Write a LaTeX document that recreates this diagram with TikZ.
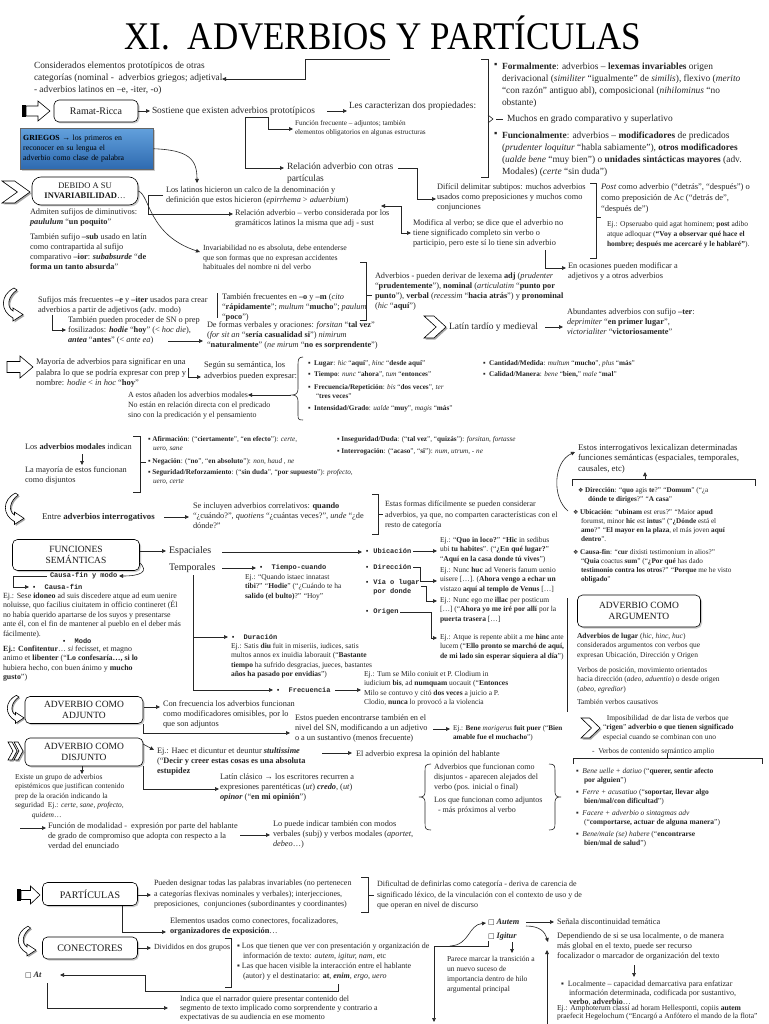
\documentclass[tikz,border=0pt]{standalone}
\usepackage{fontspec}
\setmainfont{Liberation Serif}
\newfontfamily\dv{DejaVu Sans}
\newfontfamily\mono{Liberation Mono}
\usetikzlibrary{arrows.meta,shadows}
\definecolor{txt}{HTML}{262626}
\definecolor{gtop}{HTML}{62A0DC}
\definecolor{gbot}{HTML}{2E6AB0}
\newcommand{\chev}[4]{\fill[black!35] ({#1+1.5},{#2+1.5}) -- ++(0.45*#3,0) -- ++(0.55*#3,0.5*#4) -- ++(-0.55*#3,0.5*#4) -- ++(-0.45*#3,0) -- ++(0.55*#3,-0.5*#4) -- cycle;
 \draw[line width=0.6pt, fill=white] (#1,#2) -- ++(0.45*#3,0) -- ++(0.55*#3,0.5*#4) -- ++(-0.55*#3,0.5*#4) -- ++(-0.45*#3,0) -- ++(0.55*#3,-0.5*#4) -- cycle;}
\newcommand{\barrow}[4]{\draw[line width=0.6pt, fill=white] (#1,{#3-0.25*#4}) -- ({#1+0.5*(#2-#1)},{#3-0.25*#4}) -- ({#1+0.5*(#2-#1)},{#3-0.5*#4}) -- (#2,#3) -- ({#1+0.5*(#2-#1)},{#3+0.5*#4}) -- ({#1+0.5*(#2-#1)},{#3+0.25*#4}) -- (#1,{#3+0.25*#4}) -- cycle;}
\newcommand{\hookarr}[3]{\begin{scope}[shift={(#1,#2)}, scale=#3]
 \fill[black!35] (15.5,1.5) .. controls (6.5,7.5) and (4.5,18.5) .. (11.5,22.5) -- (11.5,19.5) -- (21.5,26) -- (11.5,32.5) -- (11.5,29.5) .. controls (-1.5,22.5) and (-1.5,6.5) .. (12.5,-0.5) -- cycle;
 \draw[line width=0.6pt, fill=white] (14,0) .. controls (5,6) and (3,17) .. (10,21) -- (10,18) -- (20,24.5) -- (10,31) -- (10,28) .. controls (-3,21) and (-3,5) .. (11,-2) -- cycle;
 \end{scope}}
\tikzset{
 T/.style={anchor=north west, inner sep=0pt, outer sep=0pt, align=left, text=txt, font=\fontsize{8.3}{10}\selectfont},
 T9/.style={T, font=\fontsize{9.4}{12}\selectfont},
 Tx/.style={T, font=\fontsize{7.5}{9.5}\selectfont},
 Ts/.style={T, font=\fontsize{7.2}{9.2}\selectfont},
 Tm/.style={T, font=\mono\bfseries\fontsize{7}{9.5}\selectfont},
 box/.style={draw=black, line width=0.6pt, fill=white, rounded corners=5pt, align=center, inner sep=1pt, text=black!90, drop shadow={shadow xshift=1.5pt, shadow yshift=-1.5pt, fill=black!40}, font=\fontsize{9.5}{11}\selectfont},
 ln/.style={line width=0.6pt, draw=black!85},
 arr/.style={ln, -{Triangle[length=4pt,width=3.6pt]}},
 darr/.style={ln, {Triangle[length=4pt,width=3.6pt]}-{Triangle[length=4pt,width=3.6pt]}},
}
\begin{document}
\begin{tikzpicture}[x=1pt,y=-1pt]
\useasboundingbox (0,0) rectangle (768,1024);
\fill[white] (0,0) rectangle (768,1024);
% ---------- title
\node[anchor=base, inner sep=0pt, font=\fontsize{35}{40}\selectfont] (title) at (383,50) {\scalebox{1}[1.12]{XI.\ \ ADVERBIOS Y PARTÍCULAS}};
% ---------- top left
\node[T9] (consid) at (34,62) {Considerados elementos prototípicos de otras\\categorías (nominal -\ \ adverbios griegos; adjetival\\- adverbios latinos en –e, -iter, -o)};
\draw[arr] (390,59) -- (305,59) -- (305,79) -- (222,79);
\fill[black] (22,105) rectangle (26,117);
\barrow{26}{50}{111}{20}
\node[box, minimum width=84pt, minimum height=22pt, font=\fontsize{10}{12}\selectfont] (ramat) at (96,111) {Ramat-Ricca};
\draw[arr] (ramat.east) -- (150,111);
\node[T9, anchor=west] (sost) at (152,111) {Sostiene que existen adverbios prototípicos};
\draw[arr] (327,111) -- (347,111);
\node[T9, anchor=west] (lescar) at (349,106) {Les caracterizan dos propiedades:};
\draw[ln] (481,59) -- (488,59) -- (488,177) -- (481,177);
\draw[ln] (488,115) -- (493,119) -- (488,123);
\draw[ln] (496,119.5) -- (503,119.5);
\node[T9] at (494,63) {▪};
\node[T9] (formal) at (502,63) {\textbf{Formalmente}: adverbios – \textbf{lexemas invariables} origen\\derivacional (\textit{similiter} “igualmente” de \textit{similis}), flexivo (\textit{merito}\\“con razón” antiguo abl), composicional (\textit{nihilominus} “no\\obstante)};
\node[T9, anchor=west] (muchos) at (507,119) {Muchos en grado comparativo y superlativo};
\node[T9] at (494,132) {▪};
\node[T9] (funcion) at (502,132) {\textbf{Funcionalmente}: adverbios – \textbf{modificadores} de predicados\\(\textit{prudenter loquitur} “habla sabiamente”), \textbf{otros modificadores}\\(\textit{ualde bene} “muy bien”) o \textbf{unidades sintácticas mayores} (adv.\\Modales) (\textit{certe} “sin duda”)};
\node[Ts] (funcfrec) at (295,120) {Función frecuente – adjuntos; también\\elementos obligatorios en algunas estructuras};
\draw[ln] (245,117) -- (268,117);
\draw[arr] (268,117) -- (268,129) -- (293,129);
\draw[arr] (245,117) -- (245,168) -- (284,168);
\node[T, font=\fontsize{9.5}{12}\selectfont] (reladv) at (287,163) {Relación adverbio con otras\\partículas};
\draw[arr] (398,168) -- (417,168) -- (417,199) -- (436,199);
% ---------- griegos
\node[draw=black!60, line width=0.5pt, top color=gtop, bottom color=gbot, anchor=north west, inner sep=3pt, minimum width=133pt, minimum height=41pt, text width=127pt, align=left, font=\fontsize{7.8}{10}\selectfont, drop shadow={shadow xshift=1.5pt, shadow yshift=-1.5pt, fill=black!40}] (griegos) at (20,128) {\textbf{GRIEGOS} → los primeros en\\reconocer en su lengua el\\adverbio como clase de palabra};
\draw[arr] (griegos.east) .. controls (190,150) and (197,160) .. (197,183);
% ---------- debido
\chev{2}{181}{28}{22}
\node[box, rounded corners=9pt, minimum width=106pt, minimum height=28pt, font=\fontsize{8.5}{10}\selectfont] (debido) at (85,191) {DEBIDO A SU\\\textbf{INVARIABILIDAD}…};
\node[T] (latinos) at (166,187) {Los latinos hicieron un calco de la denominación y\\definición que estos hicieron (\textit{epirrhema} > \textit{aduerbium})};
\draw[arr] (163,195) -- (148,195) -- (148,214) -- (233,214);
\node[T] (reladvverb) at (235,210) {Relación adverbio – verbo considerada por los\\gramáticos latinos la misma que adj - sust};
\draw[darr] (381,206) -- (401,206) -- (401,233) -- (411,233);
\node[T] (dificil) at (437,184) {Difícil delimitar subtipos: muchos adverbios\\usados como preposiciones y muchos como\\conjunciones};
\node[T] (modif) at (413,220) {Modifica al verbo; se dice que el adverbio no\\tiene significado completo sin verbo o\\participio, pero este sí lo tiene sin adverbio};
\draw[arr] (545,250) -- (545,268) -- (566,268);
\node[T] (ocasion) at (568,263) {En ocasiones pueden modificar a\\adjetivos y a otros adverbios};
\draw[ln] (590,183) -- (596,183) -- (596,258) -- (590,258);
\draw[ln] (596,217) -- (601,217);
\node[T, font=\fontsize{8.5}{11}\selectfont] (post) at (601,184) {\textit{Post} como adverbio (“detrás”, “después”) o\\como preposición de Ac (“detrás de”,\\“después de”)};
\node[T, font=\fontsize{7.5}{10}\selectfont] (opser) at (607,221) {Ej.: Opseruabo quid agat hominem; \textbf{post} adibo\\atque adloquar (\textbf{“Voy a observar qué hace el}\\\textbf{hombre; después me acercaré y le hablaré”}).};
\node[T] (admiten) at (30,209) {Admiten sufijos de diminutivos:\\\textbf{\textit{paululum}} “\textbf{un poquito}”};
\node[T] (sub) at (30,234) {También sufijo \textbf{–sub} usado en latín\\como contrapartida al sufijo\\comparativo \textbf{–ior}: \textbf{\textit{subabsurde}} “\textbf{de}\\\textbf{forma un tanto absurda}”};
\draw[arr] (debido.east) .. controls (150,195) and (148,235) .. (200,252);
\node[T, font=\fontsize{7.8}{9.6}\selectfont] (invar) at (203,245) {Invariabilidad no es absoluta, debe entenderse\\que son formas que no expresan accidentes\\habituales del nombre ni del verbo};
% ---------- sufijos
\hookarr{3}{290}{1}
\node[T] (sufijos) at (38,297) {Sufijos más frecuentes \textbf{–e} y \textbf{–iter} usados para crear\\adverbios a partir de adjetivos (adv. modo)};
\draw[ln] (217,293) -- (217,318);
\node[T] (tambfrec) at (222,294) {También frecuentes en \textbf{–o} y \textbf{–m} (\textit{cito}\\“\textbf{rápidamente}”; \textit{multum} “\textbf{mucho}”; \textit{paulum}\\“\textbf{poco}”)};
\draw[ln] (360,262) -- (366,262) -- (366,320) -- (360,320);
\draw[ln] (366,295) -- (372,295);
\node[T] (derivar) at (375,273) {Adverbios - pueden derivar de lexema \textbf{adj} (\textit{prudenter}\\“\textbf{prudentemente}”), \textbf{nominal} (\textit{articulatim} “\textbf{punto por}\\\textbf{punto}”), \textbf{verbal} (\textit{recessim} “\textbf{hacia atrás}”) y \textbf{pronominal}\\(\textit{hic} “\textbf{aquí}”)};
\draw[arr] (52,315) -- (52,330) -- (66,330);
\node[T] (sn) at (68,317) {También pueden proceder de SN o prep\\fosilizados: \textbf{\textit{hodie}} “\textbf{hoy}” (< \textit{hoc die}),\\\textbf{\textit{antea}} “\textbf{antes}” (< \textit{ante ea})};
\draw[arr] (168,341) -- (203,341);
\node[T] (formasv) at (207,322) {De formas verbales y oraciones: \textit{forsitan} “\textbf{tal vez}”\\(\textit{for sit an} “\textbf{sería casualidad si}”) \textit{nimirum}\\“\textbf{naturalmente}” (\textit{ne mirum} “\textbf{no es sorprendente}”)};
\chev{424}{316}{22}{22}
\node[T, font=\fontsize{9.5}{12}\selectfont, anchor=west] (tardio) at (449,327) {Latín tardío y medieval};
\draw[arr] (545,327) -- (563,327);
\node[T] (abund) at (567,309) {Abundantes adverbios con sufijo \textbf{–ter}:\\\textit{deprimiter} “\textbf{en primer lugar}”,\\\textit{victorialiter} “\textbf{victoriosamente}”};
% ---------- mayoria
\barrow{7}{33}{367}{22}
\node[T, font=\fontsize{8.5}{10.5}\selectfont] (mayoria) at (36,359) {Mayoría de adverbios para significar en una\\palabra lo que se podría expresar con prep y\\nombre: \textit{hodie} < \textit{in hoc} “\textbf{hoy}”};
\draw[arr] (188,368) -- (188,377) -- (201,377);
\node[T, font=\fontsize{8.5}{10.5}\selectfont] (segun) at (204,362) {Según su semántica, los\\adverbios pueden expresar:};
\draw[ln] (303,357) .. controls (298,357) and (298,360) .. (298,366) -- (298,389) .. controls (298,393) and (296,395) .. (292,395) .. controls (296,395) and (298,397) .. (298,401) -- (298,414) .. controls (298,419) and (298,420) .. (303,420);
\draw[arr] (291,395) -- (248,395);
\node[T, font=\fontsize{7.9}{10.5}\selectfont, anchor=west] (aestos) at (128,395) {A estos añaden los adverbios modales};
\node[T, font=\fontsize{7.9}{10.5}\selectfont] (noestan) at (128,402) {No están en relación directa con el predicado\\sino con la predicación y el pensamiento};
\node[Ts] (lugar) at (308,360) {▪\ \ \textbf{Lugar}: \textit{hic} “\textbf{aquí}”, \textit{hinc} “\textbf{desde aquí}”};
\node[Ts] (tiempo) at (308,372) {▪\ \ \textbf{Tiempo}: \textit{nunc} “\textbf{ahora}”, \textit{tum} “\textbf{entonces}”};
\node[Ts] (frecrep) at (308,384) {▪\ \ \textbf{Frecuencia/Repetición}: \textit{bis} “\textbf{dos veces}”, \textit{ter}\\\hspace*{8pt}“\textbf{tres veces}”};
\node[Ts] (intens) at (308,405) {▪\ \ \textbf{Intensidad/Grado}: \textit{ualde} “\textbf{muy}”, \textit{magis} “\textbf{más}”};
\node[Ts] (cantid) at (483,360) {▪\ \ \textbf{Cantidad/Medida}: \textit{multum} “\textbf{mucho}”, \textit{plus} “\textbf{más}”};
\node[Ts] (calid) at (483,372) {▪\ \ \textbf{Calidad/Manera}: \textit{bene} “\textbf{bien,}” \textit{male} “\textbf{mal}”};
% ---------- modales
\node[T] (modales) at (25,444) {Los \textbf{adverbios modales} indican};
\draw[arr] (82,454) -- (82,465);
\node[T] (mayest) at (25,467) {La mayoría de estos funcionan\\como disjuntos};
\draw[ln] (133,436) -- (140,436) -- (140,492) -- (133,492);
\draw[ln] (140,462) -- (146,462);
\node[Ts] (afirm) at (148,436) {▪ \textbf{Afirmación}: (“\textbf{ciertamente}”, “\textbf{en efecto}”): \textit{certe},\\\hspace*{5pt}\textit{uero, sane}};
\node[Ts] (neg) at (148,458) {▪ \textbf{Negación}: (“\textbf{no}”, “\textbf{en absoluto}”): \textit{non, haud , ne}};
\node[Ts] (segur) at (148,469) {▪ \textbf{Seguridad/Reforzamiento}: (“\textbf{sin duda}”, “\textbf{por supuesto}”): \textit{profecto,}\\\hspace*{5pt}\textit{uero, certe}};
\node[Ts] (inseg) at (337,436) {▪ \textbf{Inseguridad/Duda}: (“\textbf{tal vez}”, “\textbf{quizás}”): \textit{forsitan, fortasse}};
\node[Ts] (interr) at (337,448) {▪ \textbf{Interrogación}: (“\textbf{acaso}”, “\textbf{si}”): \textit{num, utrum, - ne}};
% ---------- interrogativos (right)
\node[T, font=\fontsize{8.8}{10.5}\selectfont] (estosint) at (578,444) {Estos interrogativos lexicalizan determinadas\\funciones semánticas (espaciales, temporales,\\causales, etc)};
\draw[ln] (572,486) -- (572,479) -- (755,479) -- (755,486);
\draw[arr] (645,479) -- (645,472);
\node[Ts] (dirq) at (578,487) {{\dv\fontsize{6}{6}\selectfont ❖} \textbf{Dirección}: “\textbf{quo} agis \textbf{te}?” “\textbf{Domum}” (“¿a\\\hspace*{10pt}\textbf{dónde te diriges}?” “\textbf{A casa}”};
\node[Ts] (ubiq) at (573,509) {{\dv\fontsize{6}{6}\selectfont ❖} \textbf{Ubicación}: “\textbf{ubinam} est erus?” “Maior \textbf{apud}\\\hspace*{8pt}forumst, minor \textbf{hic} est \textbf{intus}” (“\textbf{¿Dónde} está el\\\hspace*{8pt}\textbf{amo}?” “\textbf{El mayor en la plaza}, el más joven \textbf{aquí}\\\hspace*{8pt}\textbf{dentro}”.};
\node[Ts] (causaq) at (573,549) {{\dv\fontsize{6}{6}\selectfont ❖} \textbf{Causa-fin}: “\textbf{cur} dixisti testimonium in alios?”\\\hspace*{8pt}“\textbf{Quia} coactus \textbf{sum}” (“\textbf{¿Por qué} has dado\\\hspace*{8pt}\textbf{testimonio contra los otros}?” “\textbf{Porque} me he visto\\\hspace*{8pt}\textbf{obligado}”};
\draw[arr] (568,511) .. controls (552,498) and (553,462) .. (575,452);
\node[T, font=\fontsize{8}{10.5}\selectfont] (estasf) at (385,501) {Estas formas difícilmente se pueden considerar\\adverbios, ya que, no comparten características con el\\resto de categoría};
\hookarr{5}{495}{0.95}
\node[T, font=\fontsize{8.8}{11}\selectfont, anchor=west] (entre) at (42,517) {Entre \textbf{adverbios interrogativos}};
\draw[arr] (164,517) -- (189,517);
\node[T] (seincl) at (193,503) {Se incluyen adverbios correlativos: \textbf{quando}\\“¿cuándo?”, \textit{quotiens} “¿cuántas veces?”, \textit{unde} “¿de\\dónde?”};
\draw[ln] (372,494) -- (378,494) -- (378,534) -- (372,534);
\draw[ln] (378,514) -- (383,514);
% ---------- funciones semanticas
\node[box, minimum width=127pt, minimum height=31pt] (funsem) at (76,555) {FUNCIONES\\SEMÁNTICAS};
\draw[arr] (140,551) -- (166,551);
\node[T, font=\fontsize{10}{12}\selectfont, anchor=west] (espac) at (169,551) {Espaciales};
\node[T, font=\fontsize{10}{12}\selectfont, anchor=west] (tempor) at (169,568) {Temporales};
\draw[arr] (222,552) -- (362,552);
\draw[arr] (222,568) -- (256,568);
\draw[arr] (139,562) .. controls (150,572) and (140,576) .. (119,576);
\node[Tm, anchor=west] (cfm) at (50,576) {Causa-fin y modo};
\draw[arr] (47,576) -- (13,576) -- (13,587) -- (29,587);
\node[Tm, anchor=west] (cf) at (32,587) {▪\ \ Causa-fin};
\node[T, font=\fontsize{7.9}{9.4}\selectfont] (sese) at (3,593) {Ej.: Sese \textbf{idoneo} ad suis discedere atque ad eum uenire\\noluisse, quo facilius ciuitatem in officio contineret (Él\\no había querido apartarse de los suyos y presentarse\\ante él, con el fin de mantener al pueblo en el deber más\\fácilmente).};
\node[Tm, anchor=west] (modo) at (62,641) {▪\ \ Modo};
\node[T, font=\fontsize{7.9}{9.4}\selectfont] (confit) at (3,646) {\textbf{Ej.: Confitentur}… \textit{si} fecisset, et magno\\animo et \textbf{libenter} (“\textbf{Lo confesaría…, si lo}\\hubiera hecho, con buen ánimo y \textbf{mucho}\\\textbf{gusto}”)};
\node[Tm, anchor=west] (tcuando) at (259,568) {▪\ \ Tiempo-cuando};
\node[Tx] (quando) at (245,574) {Ej.: “Quando istaec innatast\\\textbf{tibi}?” “\textbf{Hodie}” (“¿Cuándo te ha\\\textbf{salido (el bulto)}?” “Hoy”};
\draw[ln] (193,575) -- (193,690);
\draw[arr] (193,637) -- (228,637);
\node[Tm, anchor=west] (durac) at (231,637) {▪\ \ Duración};
\node[Tx] (satis) at (231,643) {Ej.: Satis \textbf{diu} fuit in miseriis, iudices, satis\\multos annos ex inuidia laborauit (“\textbf{Bastante}\\\textbf{tiempo} ha sufrido desgracias, jueces, bastantes\\\textbf{años ha pasado por envidias}”)};
\draw[arr] (193,690) -- (273,690);
\node[Tm, anchor=west] (frec) at (276,690) {▪\ \ Frecuencia};
\draw[arr] (335,690) -- (361,690);
\node[Tx] (milo) at (364,671) {Ej.: Tum se Milo coniuit et P. Clodium in\\iudicium \textbf{bis}, ad \textbf{numquam} uocauit (“\textbf{Entonces}\\Milo se contuvo y citó \textbf{dos veces} a juicio a P.\\Clodio, \textbf{nunca} lo provocó a la violencia};
% ---------- espaciales
\node[Tm, anchor=west] (ub) at (365,551) {▪ Ubicación};
\draw[arr] (413,551) -- (437,551);
\node[Tx] (quo) at (440,537) {Ej.: “\textbf{Quo in loco?}” “\textbf{Hic} in sedibus\\ubi \textbf{tu habites}”. (“\textbf{¿En qué lugar?}”\\“\textbf{Aquí en la casa donde tú vives}”)};
\node[Tm, anchor=west] (dirn) at (365,567) {▪ Dirección};
\draw[arr] (413,567) -- (420,567) -- (420,581) -- (437,581);
\node[Tx] (huc) at (440,567) {Ej.: Nunc \textbf{huc} ad Veneris fanum uenio\\uisere [\dots]. (\textbf{Ahora vengo a echar un}\\vistazo \textbf{aquí al templo de Venus} [\dots]};
\node[Tm] (via) at (365,579) {▪ Vía o lugar\\\ \ por donde};
\draw[arr] (421,586) -- (426,586) -- (426,601) -- (437,601);
\node[Tx] (illac) at (440,597) {Ej.: Nunc ego me \textbf{illac} per posticum\\{}[\dots] (“\textbf{Ahora yo me iré por allí} por la\\\textbf{puerta trasera} [\dots]};
\node[Tm, anchor=west] (orig) at (365,612) {▪ Origen};
\draw[arr] (400,612) -- (431,612) -- (431,638) -- (437,638);
\node[Tx] (atque) at (440,634) {Ej.: Atque is repente abiit a me \textbf{hinc} ante\\lucem (“\textbf{Ello pronto se marchó de aquí,}\\\textbf{de mi lado sin esperar siquiera al día}”)};
% ---------- argumento
\draw[ln] (567,598) -- (567,712);
\node[box, minimum width=123pt, minimum height=32pt] (arg) at (639,611) {ADVERBIO COMO\\ARGUMENTO};
\node[Tx] (advlug) at (577,633) {\textbf{Adverbios de lugar} (\textit{hic, hinc, huc})\\considerados argumentos con verbos que\\expresan Ubicación, Dirección y Origen};
\node[Tx] (verbpos) at (577,667) {Verbos de posición, movimiento orientados\\hacia dirección (\textit{adeo, aduentio}) o desde origen\\(\textit{abeo, egredior})};
\node[Tx, anchor=west] (causat) at (577,702) {También verbos causativos};
\chev{581}{718}{19}{20}
\node[Tx] (imposib) at (603,715) {\ \ Imposibilidad\ \ de dar lista de verbos que\\“\textbf{rigen}” \textbf{adverbio o que tienen significado}\\especial cuando se combinan con uno};
\node[Tx, anchor=west] (vcont) at (592,752) {-\ \ Verbos de contenido semántico amplio};
\draw[ln] (573,764) -- (573,758) -- (762,758) -- (762,764);
\draw[ln] (667,758) -- (667,753);
\node[Tx] (bu1) at (576,768) {▪\ \ \textit{Bene uelle + datiuo} (“\textbf{querer, sentir afecto}\\\hspace*{8pt}\textbf{por alguien}”)};
\node[Tx] (bu2) at (576,789) {▪\ \ \textit{Ferre + acusatiuo} (“\textbf{soportar, llevar algo}\\\hspace*{8pt}\textbf{bien/mal/con dificultad}”)};
\node[Tx] (bu3) at (576,810) {▪\ \ \textit{Facere + adverbio o sintagmas adv}\\\hspace*{8pt}(“\textbf{comportarse, actuar de alguna manera}”)};
\node[Tx] (bu4) at (576,831) {▪\ \ \textit{Bene/male (se) habere} (“\textbf{encontrarse}\\\hspace*{8pt}\textbf{bien/mal de salud}”)};
% ---------- adjunto / disjunto
\hookarr{7}{697}{0.85}
\node[box, minimum width=118pt, minimum height=27pt] (adj) at (84,710) {ADVERBIO COMO\\ADJUNTO};
\draw[arr] (144,707) -- (160,707);
\node[T] (confrec) at (163,701) {Con frecuencia los adverbios funcionan\\como modificadores omisibles, por lo\\que son adjuntos};
\draw[arr] (143,724) -- (143,733) -- (290,733);
\node[T] (encontr) at (295,715) {Estos pueden encontrarse también en el\\nivel del SN, modificando a un adjetivo\\o a un sustantivo (menos frecuente)};
\draw[arr] (433,729) -- (450,729);
\node[T, font=\fontsize{7.2}{9.5}\selectfont] (morig) at (453,725) {Ej.: \textbf{Bene} \textit{morigerus} \textbf{fuit puer} (“\textbf{Bien}\\\textbf{amable fue el muchacho}”)};
\chev{8}{742}{9}{18}
\chev{14}{742}{9}{18}
\node[box, minimum width=118pt, minimum height=28pt] (disj) at (84,752) {ADVERBIO COMO\\DISJUNTO};
\draw[arr] (143,744) -- (154,750);
\node[T] (haec) at (157,748) {Ej.: Haec et dicuntur et deuntur \textbf{\textit{stultissime}}\\(“\textbf{Decir y creer estas cosas es una absoluta}\\\textbf{estupidez}};
\draw[arr] (322,753) -- (352,753);
\node[T, anchor=west] (opin) at (356,754) {El adverbio expresa la opinión del hablante};
\draw[arr] (82,766) -- (82,774);
\node[Tx] (existe) at (15,774) {Existe un grupo de adverbios\\epistémicos que justifican contenido\\prep de la oración indicando la\\seguridad\ \ Ej.: \textit{certe, sane, profecto,}\\\hspace*{17pt}\textit{quidem}…};
\draw[arr] (143,766) -- (143,789) -- (219,789);
\node[T] (clasico) at (220,774) {Latín clásico → los escritores recurren a\\expresiones parentéticas (\textit{ut}) \textbf{\textit{credo}}, (\textit{ut})\\\textbf{\textit{opinor}} (“\textbf{en mi opinión}”)};
\draw[ln] (431,764) .. controls (425,764) and (425,766) .. (425,772) -- (425,792) .. controls (425,796) and (423,797) .. (419,797) .. controls (423,797) and (425,798) .. (425,802) -- (425,822) .. controls (425,828) and (425,830) .. (431,830);
\draw[ln] (549,764) .. controls (555,764) and (555,766) .. (555,772) -- (555,792) .. controls (555,796) and (557,797) .. (561,797) .. controls (557,797) and (555,798) .. (555,802) -- (555,822) .. controls (555,828) and (555,830) .. (549,830);
\node[T, font=\fontsize{8}{10}\selectfont] (disyads) at (434,764) {Adverbios que funcionan como\\disjuntos - aparecen alejados del\\verbo (pos. inicial o final)};
\node[T, font=\fontsize{8}{10}\selectfont] (adjs) at (434,797) {Los que funcionan como adjuntos\\\ \ - más próximos al verbo};
\draw[arr] (20,828) -- (46,828);
\node[T] (modalid) at (48,823) {Función de modalidad -\ \ expresión por parte del hablante\\de grado de compromiso que adopta con respecto a la\\verdad del enunciado};
\draw[arr] (240,835) -- (270,835);
\node[T] (puede) at (273,821) {Lo puede indicar también con modos\\verbales (subj) y verbos modales (\textit{aportet},\\\textit{debeo}…)};
% ---------- particulas
\fill[black] (17,889) rectangle (21,901);
\barrow{21}{40}{895}{18}
\node[box, minimum width=95pt, minimum height=23pt, font=\fontsize{10}{12}\selectfont] (part) at (90,894) {PARTÍCULAS};
\draw[arr] (138,895) -- (151,895);
\node[T, font=\fontsize{8}{10.5}\selectfont] (pueden) at (154,880) {Pueden designar todas las palabras invariables (no pertenecen\\a categorías flexivas nominales y verbales); interjecciones,\\preposiciones,\ \ conjunciones (subordinantes y coordinantes)};
\draw[ln] (361,877) -- (368,877) -- (368,912) -- (361,912);
\draw[ln] (368,895) -- (374,895);
\node[T, font=\fontsize{8}{10.5}\selectfont] (dific) at (377,881) {Dificultad de definirlas como categoría - deriva de carencia de\\significado léxico, de la vinculación con el contexto de uso y de\\que operan en nivel de discurso};
\draw[arr] (122,906) -- (122,932) -- (166,932);
\node[T] (elem) at (170,918) {Elementos usados como conectores, focalizadores,\\\textbf{organizadores de exposición}…};
\hookarr{18}{928}{0.9}
\node[box, minimum width=95pt, minimum height=22pt, font=\fontsize{10}{12}\selectfont] (conect) at (90,948) {CONECTORES};
\draw[arr] (138,948) -- (151,948);
\node[T, font=\fontsize{7.8}{10}\selectfont, anchor=west] (divid) at (154,948) {Divididos en dos grupos};
\draw[ln] (225,938) -- (231,938) -- (231,987) -- (225,987);
\node[T, font=\fontsize{8}{9.5}\selectfont] (grupo1) at (237,943) {▪ Los que tienen que ver con presentación y organización de\\\ \ \ información de texto: \textit{autem, igitur, nam}, etc};
\node[T, font=\fontsize{8}{9.5}\selectfont] (grupo2) at (237,963) {▪ Las que hacen visible la interacción entre el hablante\\\ \ \ (autor) y el destinatario: \textbf{at}, \textbf{\textit{enim}}, \textit{ergo}, \textit{uero}};
\node[T, anchor=west] (at) at (25,975) {{\dv\fontsize{7}{7}\selectfont □} \textbf{\textit{At}}};
\draw[arr] (338,984) -- (338,991) -- (145,991) -- (145,975) -- (60,975);
\draw[arr] (47,983) -- (47,1008) -- (168,1008);
\node[T, font=\fontsize{8}{9}\selectfont] (indica) at (180,996) {Indica que el narrador quiere presentar contenido del\\segmento de texto implicado como sorprendente y contrario a\\expectativas de su audiencia en ese momento};
\node[T, anchor=west] (autem) at (488,922) {{\dv\fontsize{7}{7}\selectfont □} \textbf{\textit{Autem}}};
\node[T, anchor=west] (igitur) at (488,936) {{\dv\fontsize{7}{7}\selectfont □} \textbf{\textit{Igitur}}};
\draw[arr] (450,946) .. controls (470,945) and (468,925) .. (486,923);
\draw[arr] (526,922) -- (554,922);
\node[T, anchor=west] (senala) at (557,922) {Señala discontinuidad temática};
\draw[arr] (526,926) .. controls (540,926) and (545,932) .. (548,942);
\node[T] (depend) at (557,933) {Dependiendo de si se usa localmente, o de manera\\más global en el texto, puede ser recurso\\focalizador o marcador de organización del texto};
\draw[arr] (547,1024) -- (547,950);
\draw[arr] (512,942) -- (512,953);
\node[T, font=\fontsize{7.6}{10}\selectfont] (parece) at (447,956) {Parece marcar la transición a\\un nuevo suceso de\\importancia dentro de hilo\\argumental principal};
\draw[arr] (488,941) -- (488,946) -- (434,946) -- (434,1022);
\draw[arr] (634,965) -- (634,977);
\node[T, font=\fontsize{8}{8.8}\selectfont] (local) at (561,981) {▪\ \ Localmente – capacidad demarcativa para enfatizar\\\ \ \ \ información determinada, codificada por sustantivo,\\\ \ \ \ \textbf{verbo}, \textbf{adverbio}…};
\node[T, font=\fontsize{7.6}{8.4}\selectfont] (amph) at (557,1005) {Ej.: Amphoterum classi ad horam Hellesponti, copiis \textbf{autem}\\praefecit Hegelochum (“Encargó a Anfótero el mando de la flota”};
\end{tikzpicture}
\end{document}
